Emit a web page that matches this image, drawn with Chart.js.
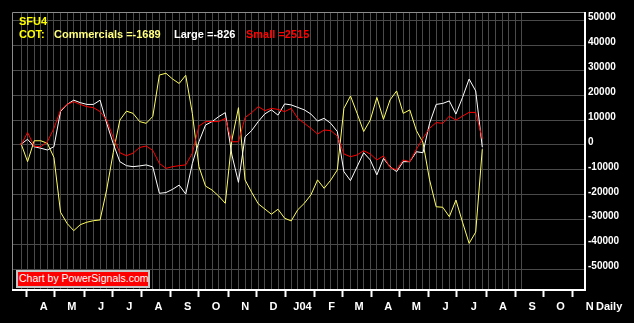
<!DOCTYPE html>
<html><head><meta charset="utf-8">
<script src="https://cdn.jsdelivr.net/npm/chart.js@4.4.1/dist/chart.umd.min.js"></script>
<style>
html,body{margin:0;padding:0;background:#000;}
#wrap{position:relative;width:634px;height:323px;overflow:hidden;background:#000;}
canvas{position:absolute;left:0;top:0;}
.t{position:absolute;font-family:"Liberation Sans",Arial,sans-serif;font-weight:bold;font-size:11px;line-height:13px;white-space:nowrap;}
#wm{position:absolute;left:16px;top:270px;width:129px;height:14px;background:#f00;border:2px solid #c4c4c4;color:#fff;font-family:"Liberation Sans",Arial,sans-serif;font-size:10.5px;line-height:12px;padding-left:1px;white-space:nowrap;}
</style></head>
<body><div id="wrap"><canvas id="c" width="634" height="323"></canvas>
<div class="t" style="left:19px;top:14.5px;color:#ff0" id="sym"></div>
<div class="t" style="left:19px;top:28px;color:#ff0">COT:</div>
<div class="t" style="left:54px;top:28px;color:#ffff80" id="lc"></div>
<div class="t" style="left:174px;top:28px;color:#fff" id="ll"></div>
<div class="t" style="left:246px;top:28px;color:#f00" id="ls"></div>
<div id="wm">Chart by PowerSignals.com</div>
<div class="t" style="left:596px;top:300px;color:#fff">Daily</div>
</div>
<script>
const symbol = 'SFU4';
const firstReport = '2003-03-25';   // weekly COT reports (Tuesdays)
const commercials = [600, -6700, 1700, 1700, 700, -5000, -27000, -31500, -34400, -32000,
  -31000, -30400, -30100, -18000, -3000, 10000, 13600, 12700, 9400, 8700,
  11500, 28100, 28800, 26500, 24700, 28000, 12700, -8700, -16500, -18100,
  -20500, -23400, 2000, 15000, -14000, -19000, -23600, -25700, -27800, -25800,
  -29400, -30500, -26000, -23400, -20000, -14000, -17400, -14100, -10000, 14700,
  19700, 12700, 5400, 10000, 19100, 10300, 18100, 21700, 12700, 14100,
  5800, 1000, -14000, -24800, -25000, -28800, -22100, -31000, -39500, -35000,
  -1689];
const large = [300, 2300, -700, -1300, -2000, -700, 13500, 16300, 18000, 17000,
  16300, 16300, 18000, 8800, 500, -6700, -8300, -8700, -8400, -8000,
  -8800, -19400, -19100, -17800, -16100, -19700, -7400, 1300, 8000, 9400,
  11400, 13000, -4000, -15000, 3300, 5800, 9400, 12500, 14100, 12000,
  16500, 16100, 15100, 14100, 12400, 9600, 10700, 8700, 5400, -10700,
  -14300, -8700, -3100, -6000, -12000, -5400, -8700, -10700, -6700, -6700,
  -2700, -3100, 8700, 16300, 16700, 17700, 12400, 19100, 26500, 21700,
  -826];
const small = [0, 5000, -500, -700, 1300, 6700, 14000, 16300, 17400, 16300,
  15400, 15000, 13400, 10000, 3000, -3100, -4300, -3300, -1000, -400,
  -2200, -7400, -9400, -8700, -8300, -8000, -3300, 7600, 9400, 9400,
  9400, 10700, 1300, 1300, 11000, 13000, 15400, 13800, 14700, 14300,
  13400, 14700, 10700, 8700, 6700, 4400, 6000, 5800, 3600, -3600,
  -4700, -4000, -2300, -3600, -6000, -4400, -9000, -10000, -6000, -6700,
  -1700, 2700, 6700, 9000, 8700, 11600, 10000, 11600, 13100, 13100,
  2515];
const monthLabels = ['A','M','J','J','A','S','O','N','D','J04','F','M','A','M','J','J','A','S','O','N'];
const firstMonth = '2003-04-01';
const yTickValues = [-50000,-40000,-30000,-20000,-10000,0,10000,20000,30000,40000,50000];
const gridWeeks = 76;

// ---- derived ----
const DAY = 86400000;
const t0 = Date.parse(firstReport + 'T00:00:00Z');
const reportDays = commercials.map((_, i) => i * 7);
const fm = new Date(firstMonth + 'T00:00:00Z');
const monthTickDays = monthLabels.map((_, k) =>
  (Date.UTC(fm.getUTCFullYear(), fm.getUTCMonth() + k, 1) - t0) / DAY - 1);
const weekGrid = Array.from({length: gridWeeks + 1}, (_, i) => i * 7);

document.getElementById('sym').textContent = symbol;
document.getElementById('lc').textContent = 'Commercials =' + commercials[commercials.length-1];
document.getElementById('ll').textContent = 'Large =' + large[large.length-1];
document.getElementById('ls').textContent = 'Small =' + small[small.length-1];

const X_MIN = -8.5, X_MAX = 599.1;
const Y_MIN = -58230, Y_MAX = 53410;
const GRID = '#4a4a4a';
const FONT = '"Liberation Sans", Arial, sans-serif';

const pts = arr => arr.map((v, i) => ({x: reportDays[i], y: v}));

const frame = {
  id: 'frame',
  afterDraw(chart) {
    const {ctx, chartArea: a} = chart;
    ctx.save();
    ctx.lineWidth = 1;
    ctx.strokeStyle = '#8c8c8c';
    ctx.beginPath();
    ctx.moveTo(a.left - 0.5, a.bottom);
    ctx.lineTo(a.left - 0.5, a.top + 0.5);
    ctx.lineTo(a.right, a.top + 0.5);
    ctx.stroke();
    ctx.lineWidth = 2;
    ctx.strokeStyle = '#ffffff';
    ctx.beginPath();
    ctx.moveTo(a.left - 1, a.bottom);
    ctx.lineTo(a.right, a.bottom);
    ctx.lineTo(a.right, a.top);
    ctx.stroke();
    ctx.restore();
  }
};

new Chart(document.getElementById('c'), {
  type: 'line',
  data: {
    datasets: [
      {label: 'Small', data: pts(small), borderColor: '#ff0000'},
      {label: 'Large', data: pts(large), borderColor: '#ffffff'},
      {label: 'Commercials', data: pts(commercials), borderColor: '#ffff60'}
    ]
  },
  options: {
    responsive: false,
    animation: false,
    devicePixelRatio: 1,
    layout: {padding: {left: 13, top: 12, right: 0, bottom: 0}},
    elements: {
      line: {borderWidth: 1, tension: 0, fill: false},
      point: {radius: 0, hoverRadius: 0}
    },
    plugins: {legend: {display: false}, tooltip: {enabled: false}},
    events: [],
    scales: {
      x: {
        type: 'linear', position: 'bottom', min: X_MIN, max: X_MAX,
        afterBuildTicks: s => { s.ticks = monthTickDays.map(v => ({value: v})); },
        afterFit: s => { s.height = 33; },
        grid: {display: true, drawOnChartArea: false, drawTicks: true, tickLength: 7, tickWidth: 2, tickColor: '#ffffff', color: '#ffffff'},
        border: {display: false},
        ticks: {autoSkip: false, maxRotation: 0, minRotation: 0, color: '#ffffff',
          font: {family: FONT, size: 11, weight: 'bold'}, padding: 3, labelOffset: 17,
          callback: (v, i) => monthLabels[i]}
      },
      xw: {
        type: 'linear', position: 'bottom', min: X_MIN, max: X_MAX,
        afterBuildTicks: s => { s.ticks = weekGrid.map(v => ({value: v})); },
        afterFit: s => { s.height = 0; },
        grid: {color: GRID, drawTicks: false, lineWidth: 1},
        border: {display: false},
        ticks: {display: false}
      },
      y: {
        position: 'right', min: Y_MIN, max: Y_MAX,
        afterBuildTicks: s => { s.ticks = yTickValues.map(v => ({value: v})); },
        afterFit: s => { s.width = 49; },
        grid: {color: GRID, drawTicks: false, lineWidth: 1},
        border: {display: false},
        ticks: {color: '#ffffff', font: {family: FONT, size: 10, weight: 'bold'},
          padding: 3, labelOffset: -3, callback: v => String(v)}
      }
    }
  },
  plugins: [frame]
});
</script>
</body></html>
